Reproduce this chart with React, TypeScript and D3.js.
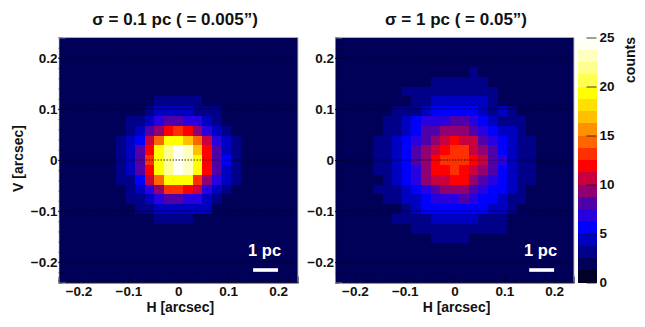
import React, { useEffect, useRef } from 'react';
import * as d3 from 'd3';

// counts per 0.0192" pixel (top row first)
const _ = 1.9;
const sharpCounts = [
  [_,_,_,_,_,_,_,_,_,_,_,_,_,_,_,_,_,_,_,_,_,_,_,_,_],
  [_,_,_,_,_,_,_,_,_,_,_,_,_,_,_,_,_,_,_,_,_,_,_,_,_],
  [_,_,_,_,_,_,_,_,_,_,_,_,_,_,_,_,_,_,_,_,_,_,_,_,_],
  [_,_,_,_,_,_,_,_,_,_,_,_,_,_,_,_,_,_,_,_,_,_,_,_,_],
  [_,_,_,_,_,_,_,_,_,_,_,_,_,_,_,_,_,_,_,_,_,_,_,_,_],
  [_,_,_,_,_,_,_,_,_,_,_,_,_,_,_,_,_,_,_,_,_,_,_,_,_],
  [_,_,_,_,_,_,_,_,_,_,3.1,3.1,3.1,3.1,3.1,_,_,_,_,_,_,_,_,_,_],
  [_,_,_,_,_,_,_,_,_,3.1,4.4,4.4,4.4,4.4,3.1,3.1,3.1,_,_,_,_,_,_,_,_],
  [_,_,_,_,_,_,_,3.1,3.1,4.4,6.9,8.1,8.1,6.9,6.9,4.4,3.1,_,_,_,_,_,_,_,_],
  [_,_,_,_,_,_,_,3.1,4.4,8.1,9.4,11.9,13.1,11.9,9.4,6.9,4.4,3.1,_,_,_,_,_,_,_],
  [_,_,_,_,_,_,3.1,4.4,5.6,10.6,14.4,19.4,19.4,16.9,14.4,10.6,6.9,4.4,3.1,_,_,_,_,_,_],
  [_,_,_,_,_,_,3.1,4.4,8.1,11.9,19.4,21.9,24.4,23.1,16.9,11.9,8.1,4.4,3.1,_,_,_,_,_,_],
  [_,_,_,_,_,_,3.1,4.4,8.1,13.1,19.4,21.9,24.4,23.1,19.4,11.9,8.1,5.6,3.1,_,_,_,_,_,_],
  [_,_,_,_,_,_,3.1,4.4,8.1,11.9,19.4,21.9,24.4,23.1,19.4,11.9,8.1,4.4,3.1,_,_,_,_,_,_],
  [_,_,_,_,_,_,3.1,3.1,5.6,10.6,14.4,19.4,19.4,19.4,13.1,9.4,6.9,4.4,3.1,_,_,_,_,_,_],
  [_,_,_,_,_,_,_,3.1,4.4,6.9,9.4,13.1,13.1,11.9,10.6,6.9,4.4,3.1,_,_,_,_,_,_,_],
  [_,_,_,_,_,_,_,3.1,3.1,4.4,6.9,8.1,8.1,6.9,6.9,4.4,3.1,_,_,_,_,_,_,_,_],
  [_,_,_,_,_,_,_,_,3.1,3.1,4.4,4.4,4.4,4.4,4.4,4.4,_,_,_,_,_,_,_,_,_],
  [_,_,_,_,_,_,_,_,_,_,3.1,3.1,3.1,3.1,_,_,_,_,_,_,_,_,_,_,_],
  [_,_,_,_,_,_,_,_,_,_,_,_,_,_,_,_,_,_,_,_,_,_,_,_,_],
  [_,_,_,_,_,_,_,_,_,_,_,_,_,_,_,_,_,_,_,_,_,_,_,_,_],
  [_,_,_,_,_,_,_,_,_,_,_,_,_,_,_,_,_,_,_,_,_,_,_,_,_],
  [_,_,_,_,_,_,_,_,_,_,_,_,_,_,_,_,_,_,_,_,_,_,_,_,_],
  [_,_,_,_,_,_,_,_,_,_,_,_,_,_,_,_,_,_,_,_,_,_,_,_,_],
  [_,_,_,_,_,_,_,_,_,_,_,_,_,_,_,_,_,_,_,_,_,_,_,_,_],
];

const blurredCounts = [
  [_,_,_,_,_,_,_,_,_,_,_,_,_,_,_,_,_,_,_,_,_,_,_,_,_],
  [_,_,_,_,_,_,_,_,_,_,_,_,_,_,_,_,_,_,_,_,_,_,_,_,_],
  [_,_,_,_,_,_,_,_,_,_,_,_,_,_,_,_,_,_,_,_,_,_,_,_,_],
  [_,_,_,_,_,_,_,_,_,_,_,_,_,_,3.1,_,_,_,_,_,_,_,_,_,_],
  [_,_,_,_,_,_,_,_,_,_,3.1,3.1,3.1,3.1,3.1,3.1,_,_,_,_,_,_,_,_,_],
  [_,_,_,_,_,_,_,3.1,3.1,3.1,3.1,3.1,3.1,3.1,3.1,3.1,3.1,_,_,_,_,_,_,_,_],
  [_,_,_,_,_,_,_,_,3.1,3.1,4.4,4.4,4.4,4.4,4.4,4.4,3.1,_,_,_,_,_,_,_,_],
  [_,_,_,_,_,_,3.1,3.1,3.1,4.4,5.6,5.6,5.6,5.6,5.6,4.4,3.1,4.4,3.1,_,_,_,_,_,_],
  [_,_,_,_,_,3.1,3.1,4.4,5.6,6.9,6.9,6.9,8.1,8.1,6.9,5.6,4.4,3.1,3.1,3.1,_,_,_,_,_],
  [_,_,_,_,_,3.1,3.1,4.4,5.6,8.1,8.1,9.4,9.4,9.4,8.1,6.9,5.6,4.4,4.4,3.1,_,_,_,_,_],
  [_,_,_,_,3.1,3.1,4.4,5.6,6.9,8.1,9.4,10.6,11.9,10.6,10.6,8.1,6.9,5.6,4.4,3.1,3.1,_,_,_,_],
  [_,_,_,_,3.1,3.1,4.4,5.6,8.1,9.4,10.6,11.9,13.1,13.1,10.6,9.4,8.1,5.6,4.4,3.1,3.1,_,_,_,_],
  [_,_,_,_,3.1,3.1,4.4,5.6,8.1,9.4,11.9,13.1,13.1,13.1,11.9,10.6,8.1,6.9,4.4,3.1,3.1,_,_,_,_],
  [_,_,_,_,3.1,3.1,4.4,5.6,6.9,9.4,11.9,11.9,13.1,11.9,10.6,9.4,8.1,5.6,4.4,3.1,3.1,_,_,_,_],
  [_,_,_,_,_,3.1,4.4,5.6,6.9,9.4,10.6,10.6,11.9,11.9,9.4,8.1,6.9,5.6,4.4,3.1,3.1,_,_,_,_],
  [_,_,_,_,3.1,3.1,3.1,4.4,5.6,6.9,8.1,9.4,9.4,9.4,8.1,6.9,5.6,5.6,4.4,3.1,_,_,_,_,_],
  [_,_,_,_,_,3.1,3.1,4.4,4.4,5.6,6.9,6.9,6.9,8.1,6.9,5.6,5.6,4.4,3.1,3.1,_,_,_,_,_],
  [_,_,_,_,_,_,_,3.1,4.4,5.6,5.6,5.6,5.6,5.6,5.6,5.6,4.4,4.4,3.1,_,_,_,_,_,_],
  [_,_,_,_,_,_,3.1,3.1,3.1,3.1,4.4,4.4,4.4,4.4,4.4,3.1,3.1,3.1,_,_,_,_,_,_,_],
  [_,_,_,_,_,_,_,_,3.1,3.1,3.1,3.1,3.1,3.1,3.1,3.1,3.1,3.1,_,_,_,_,_,_,_],
  [_,_,_,_,_,_,_,_,_,_,3.1,3.1,3.1,3.1,_,_,_,_,_,_,_,_,_,_,_],
  [_,_,_,_,_,_,_,_,_,_,_,_,_,_,_,_,_,_,_,_,_,_,_,_,_],
  [_,_,_,_,_,_,_,_,_,_,_,_,_,_,_,_,_,_,_,_,_,_,_,_,_],
  [_,_,_,_,_,_,_,_,_,_,_,_,_,_,_,_,_,_,_,_,_,_,_,_,_],
  [_,_,_,_,_,_,_,_,_,_,_,_,_,_,_,_,_,_,_,_,_,_,_,_,_],
];

const palette = [
  '#000028', '#000058', '#000088', '#0000c0', '#0000ff',
  '#2800e0', '#5000a8', '#900070', '#c80040', '#ff0000',
  '#ff3000', '#ff6600', '#ff9000', '#ffc000', '#ffe000',
  '#ffff00', '#ffff50', '#ffff90', '#ffffc0', '#fffff4',
];

const xTicks = [-0.2, -0.1, 0, 0.1, 0.2];
const yTicks = [-0.2, -0.1, 0, 0.1, 0.2];
const minorTicks = d3.range(-12, 13).map(i => i * 0.02);
const barTicks = [0, 5, 10, 15, 20, 25];
const titles = ['σ = 0.1 pc ( = 0.005”)', 'σ = 1 pc ( = 0.05”)'];

const FONT = '"Liberation Sans", Arial, sans-serif';
const fmt = (d: number) => (d === 0 ? '0' : d < 0 ? '\u2212' + Math.abs(d) : String(d));

const App = () => {
  const ref = useRef<SVGSVGElement>(null);

  useEffect(() => {
    const svg = d3.select(ref.current);
    svg.selectAll('*').remove();

    const color = d3.scaleQuantize<string>().domain([0, 25]).range(palette);
    const top = 37.5, bottom = 282.5;

    const drawPanel = (counts: number[][], left: number, right: number, title: string, titleX: number, showY: boolean) => {
      const g = svg.append('g');
      const x = d3.scaleLinear().domain([-0.24, 0.24]).range([left, right]);
      const y = d3.scaleLinear().domain([-0.24, 0.24]).range([bottom, top]);
      const col = d3.scaleBand<number>().domain(d3.range(25)).range([left, right]);
      const row = d3.scaleBand<number>().domain(d3.range(25)).range([top, bottom]);

      counts.forEach((vals, r) => {
        g.append('g').selectAll('rect')
          .data(vals)
          .enter().append('rect')
          .attr('x', (d, k) => col(k)!)
          .attr('y', row(r)!)
          .attr('width', col.bandwidth())
          .attr('height', row.bandwidth())
          .attr('shape-rendering', 'crispEdges')
          .attr('fill', d => color(d));
      });

      // dotted grid at the major y ticks
      g.selectAll('.grid')
        .data(yTicks)
        .enter().append('line')
        .attr('class', 'grid')
        .attr('x1', left).attr('x2', right)
        .attr('y1', d => y(d)).attr('y2', d => y(d))
        .attr('stroke', '#000')
        .attr('stroke-width', 0.8)
        .attr('stroke-dasharray', '1.5 1.5');

      // minor ticks
      g.append('g').attr('transform', `translate(0,${bottom})`)
        .call(d3.axisTop(x).tickValues(minorTicks).tickSize(3).tickFormat(() => ''))
        .call(a => a.select('.domain').remove())
        .call(a => a.selectAll('line').attr('stroke', '#00002a'));
      g.append('g').attr('transform', `translate(${left},0)`)
        .call(d3.axisRight(y).tickValues(minorTicks).tickSize(4).tickFormat(() => ''))
        .call(a => a.select('.domain').remove())
        .call(a => a.selectAll('line').attr('stroke', '#00002a'));

      // major ticks and labels
      g.append('g').attr('transform', `translate(0,${bottom})`)
        .call(d3.axisBottom(x).tickValues(xTicks).tickSize(-6).tickPadding(3.5).tickFormat(d => fmt(+d)))
        .call(a => a.select('.domain').attr('stroke', '#222238').attr('stroke-width', 1))
        .call(a => a.selectAll('line').attr('stroke', '#00002a'))
        .call(a => a.selectAll('text').attr('fill', '#111').attr('font-size', 13.5).attr('font-weight', 'bold').attr('font-family', FONT));
      g.append('g').attr('transform', `translate(${left},0)`)
        .call(d3.axisLeft(y).tickValues(yTicks).tickSize(-7).tickPadding(1).tickFormat(d => fmt(+d)))
        .call(a => a.select('.domain').attr('stroke', '#c8c8d0').attr('stroke-width', 0.6))
        .call(a => a.selectAll('line').attr('stroke', '#00002a'))
        .call(a => a.selectAll('text').attr('fill', '#111').attr('font-size', 13.5).attr('font-weight', 'bold').attr('font-family', FONT));

      // frame edges
      g.append('line').attr('x1', right).attr('x2', right).attr('y1', top).attr('y2', bottom)
        .attr('stroke', '#bbb').attr('stroke-width', 1);
      g.append('line').attr('x1', left).attr('x2', right).attr('y1', top).attr('y2', top)
        .attr('stroke', '#8a8aa0').attr('stroke-width', 0.7);

      g.append('text')
        .attr('x', titleX).attr('y', 25)
        .attr('text-anchor', 'middle')
        .attr('font-family', FONT).attr('font-weight', 'bold').attr('font-size', 17).attr('fill', '#111')
        .text(title);

      g.append('text')
        .attr('x', x(0) + 2).attr('y', 311.5)
        .attr('text-anchor', 'middle')
        .attr('font-family', FONT).attr('font-weight', 'bold').attr('font-size', 14).attr('fill', '#111')
        .text('H [arcsec]');

      if (showY) {
        g.append('text')
          .attr('transform', `translate(23,158.5) rotate(-90)`)
          .attr('text-anchor', 'middle')
          .attr('font-family', FONT).attr('font-weight', 'bold').attr('font-size', 14).attr('fill', '#111')
          .text('V [arcsec]');
      }

      // scale bar, 1 pc = 0.05"
      g.append('rect')
        .attr('x', x(0.15)).attr('width', x(0.2) - x(0.15))
        .attr('y', y(-0.212)).attr('height', 3.6)
        .attr('fill', '#fff');
      g.append('text')
        .attr('x', x(0.175) - 1).attr('y', 256)
        .attr('text-anchor', 'middle')
        .attr('font-family', FONT).attr('font-weight', 'bold').attr('font-size', 16.5).attr('fill', '#fff')
        .text('1 pc');
    };

    drawPanel(sharpCounts, 58.5, 298, titles[0], 175, true);
    drawPanel(blurredCounts, 335, 574, titles[1], 456, false);

    // colour bar
    const barX0 = 577.5, barX1 = 596.5;
    const z = d3.scaleLinear().domain([0, 25]).range([bottom, top]);
    svg.append('g').selectAll('rect')
      .data(palette)
      .enter().append('rect')
      .attr('x', barX0)
      .attr('width', barX1 - barX0)
      .attr('y', (d, i) => z((i + 1) * 1.25))
      .attr('height', (d, i) => z(i * 1.25) - z((i + 1) * 1.25))
      .attr('shape-rendering', 'crispEdges')
      .attr('fill', d => d);

    const barAxis = svg.append('g').attr('transform', `translate(${barX1},0)`)
      .call(d3.axisRight(z).tickValues(barTicks).tickSize(-10).tickPadding(3).tickFormat(d => String(d)));
    barAxis.select('.domain').remove();
    barAxis.selectAll('line').attr('stroke', '#111').attr('stroke-width', 0.8);
    barAxis.selectAll('text').attr('fill', '#111').attr('font-size', 13.5).attr('font-weight', 'bold').attr('font-family', FONT);

    svg.append('text')
      .attr('transform', `translate(635,60) rotate(-90)`)
      .attr('text-anchor', 'middle')
      .attr('font-family', FONT).attr('font-weight', 'bold').attr('font-size', 14).attr('fill', '#111')
      .text('counts');
  }, []);

  return (
    <svg ref={ref} width={645} height={327} style={{ position: 'absolute', left: 0, top: 0, background: '#fff' }} />
  );
};

export default App;
